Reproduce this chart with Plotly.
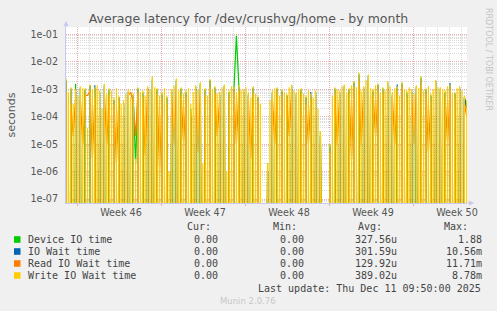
import plotly.graph_objects as go

# ---------------- data (seconds) ----------------
# write wait sampled every 0.1 day, the other series every 0.2 day
write_step_days = 0.1
other_step_days = 0.2

device_io = [
    2.2e-3, 0, 1.1e-3, 0, 1.6e-3, 0, 1.2e-3, 0, 1.0e-3, 0, 1.4e-3, 0,
    1.1e-3, 0, 8e-4, 0, 1.5e-3, 0, 1.0e-3, 0, 4e-4, 0, 5e-4, 0,
    3e-4, 0, 9e-4, 0, 6e-4, 2e-6, 1.1e-3, 0, 8e-4, 0, 1.2e-3, 0,
    2.9e-3, 0, 1.0e-3, 0, 7e-4, 0, 5e-4, 0, 9e-4, 0, 2.3e-3, 0,
    1.1e-3, 0, 8e-4, 0, 2e-4, 0, 1.3e-3, 0, 1.7e-3, 0, 1.0e-3, 0,
    2.2e-3, 0, 1.2e-3, 0, 7e-4, 0, 1.4e-3, 0, 8e-4, 0, 1.1e-3, 9e-2,
    1.5e-3, 0, 9e-4, 0, 7e-4, 0, 1.2e-3, 0, 5e-4, 0, 0, 0,
    2e-6, 0, 8e-4, 0, 1.1e-3, 0, 9e-4, 0, 6e-4, 0, 1.4e-3, 0,
    7e-4, 0, 1.0e-3, 0, 5e-4, 0, 6e-4, 0, 8e-4, 0, 3e-5, 0,
    0, 0, 1e-5, 0, 1.1e-3, 0, 8e-4, 0, 1.4e-3, 0, 1.0e-3, 0,
    1.9e-3, 0, 3.8e-3, 0, 1.2e-3, 0, 3.3e-3, 0, 9e-4, 0, 1.5e-3, 0,
    1.1e-3, 0, 1.9e-3, 0, 7e-4, 0, 1.2e-3, 0, 1.7e-3, 0, 8e-4, 0,
    9e-4, 0, 1.3e-3, 0, 2.8e-3, 0, 1.0e-3, 0, 6e-4, 0, 2.1e-3, 0,
    1.1e-3, 0, 8e-4, 0, 1.4e-3, 0, 7e-4, 0, 1.2e-3, 0, 5e-4, 2e-4,
]

io_wait = [
    2.0e-3, 0, 1.0e-3, 0, 8e-4, 0, 1.1e-3, 0, 9e-4, 0, 1.3e-3, 0,
    1.4e-3, 0, 7e-4, 0, 1.3e-3, 0, 9e-4, 0, 4e-4, 0, 5e-4, 0,
    3e-4, 0, 8e-4, 0, 6e-4, 0, 1.0e-3, 0, 7e-4, 0, 1.1e-3, 0,
    2.2e-3, 0, 9e-4, 0, 6e-4, 0, 5e-4, 0, 8e-4, 0, 2.0e-3, 0,
    1.0e-3, 0, 7e-4, 0, 1e-4, 0, 1.2e-3, 0, 1.5e-3, 0, 9e-4, 0,
    2.0e-3, 0, 1.1e-3, 0, 6e-4, 0, 1.3e-3, 0, 7e-4, 0, 1.0e-3, 0,
    1.2e-3, 0, 8e-4, 0, 6e-4, 0, 1.1e-3, 0, 5e-4, 0, 0, 0,
    1e-6, 0, 7e-4, 0, 1.0e-3, 0, 8e-4, 0, 6e-4, 0, 1.3e-3, 0,
    7e-4, 0, 9e-4, 0, 5e-4, 0, 8e-4, 0, 7e-4, 0, 2e-5, 0,
    0, 0, 8e-6, 0, 1.0e-3, 0, 7e-4, 0, 1.3e-3, 0, 9e-4, 0,
    1.7e-3, 0, 3.3e-3, 0, 1.1e-3, 0, 3.0e-3, 0, 8e-4, 0, 1.4e-3, 0,
    1.0e-3, 0, 1.7e-3, 0, 6e-4, 0, 1.5e-3, 0, 1.5e-3, 0, 7e-4, 0,
    8e-4, 0, 1.2e-3, 0, 2.5e-3, 0, 9e-4, 0, 6e-4, 0, 1.9e-3, 0,
    1.0e-3, 0, 7e-4, 0, 1.7e-3, 0, 7e-4, 0, 1.1e-3, 0, 5e-4, 2e-4,
]

read_wait = [
    8e-4, 0, 3e-4, 2e-5, 5e-4, 0, 4e-4, 1e-5, 6e-4, 6e-4, 9e-4, 3e-6,
    5e-4, 0, 2e-4, 0, 7e-4, 1e-5, 6e-4, 0, 3e-4, 2e-6, 4e-4, 0,
    1e-4, 0, 6e-4, 8e-4, 3e-4, 2e-5, 8e-4, 0, 5e-4, 4e-6, 1.0e-3, 0,
    9e-4, 0, 7e-4, 1e-6, 5e-4, 0, 3e-4, 0, 6e-4, 1e-5, 1.2e-3, 0,
    6e-4, 1e-5, 5e-4, 0, 1.5e-4, 0, 8e-4, 5e-6, 9e-4, 0, 6e-4, 0,
    1.2e-3, 0, 7e-4, 2e-5, 4e-4, 0, 1.0e-3, 0, 5e-4, 0, 8e-4, 1e-5,
    9e-4, 0, 6e-4, 0, 4e-4, 3e-6, 7e-4, 0, 4e-4, 0, 0, 0,
    1e-6, 0, 5e-4, 1e-5, 8e-4, 0, 6e-4, 0, 5e-4, 2e-5, 9e-4, 0,
    5e-4, 0, 7e-4, 0, 3e-4, 1e-5, 4e-4, 0, 6e-4, 0, 1e-5, 0,
    0, 0, 5e-6, 0, 7e-4, 1e-5, 6e-4, 0, 1.1e-3, 0, 7e-4, 3e-6,
    1.2e-3, 0, 2.0e-3, 1e-5, 8e-4, 0, 2.0e-3, 0, 6e-4, 2e-5, 1.0e-3, 0,
    7e-4, 0, 1.2e-3, 0, 5e-4, 1e-5, 9e-4, 0, 1.3e-3, 0, 5e-4, 0,
    6e-4, 1e-5, 9e-4, 0, 1.5e-3, 0, 7e-4, 5e-6, 4e-4, 0, 1.8e-3, 0,
    8e-4, 0, 5e-4, 1e-5, 1.0e-3, 0, 5e-4, 0, 9e-4, 0, 3e-4, 1e-4,
]

write_wait = [
    2.6e-3, 0, 8e-4, 0, 1.2e-3, 0, 3e-4, 0, 1.0e-3, 0, 6e-4, 0,
    1.3e-3, 0, 1.1e-3, 0, 1.1e-3, 0, 4e-5, 0, 1.5e-3, 0, 1.0e-3, 0,
    1.2e-3, 0, 1.4e-3, 0, 9e-4, 0, 2e-4, 0, 1.6e-3, 0, 7e-4, 0,
    1.1e-3, 0, 9e-4, 0, 5e-4, 0, 1.1e-3, 0, 6e-4, 0, 3e-4, 0,
    4e-4, 0, 7e-4, 0, 1.0e-3, 0, 5e-4, 0, 7e-4, 0, 3e-6, 0,
    1.2e-3, 0, 8e-4, 0, 9e-4, 0, 6e-4, 0, 1.3e-3, 0, 1.0e-3, 0,
    2.8e-3, 0, 1.2e-3, 0, 1.1e-3, 0, 6e-4, 0, 8e-4, 0, 1.1e-3, 0,
    6e-4, 0, 1e-6, 0, 1.0e-3, 0, 1.4e-3, 0, 2.5e-3, 0, 9e-4, 0,
    1.2e-3, 0, 7e-4, 0, 9e-4, 0, 1.1e-3, 0, 3e-4, 0, 8e-4, 0,
    1.4e-3, 0, 1.0e-3, 0, 1.8e-3, 0, 2e-6, 0, 1.1e-3, 0, 6e-4, 0,
    2.4e-3, 0, 1.0e-3, 0, 1.3e-3, 0, 7e-4, 0, 8e-4, 0, 1.2e-3, 0,
    1.5e-3, 0, 1e-6, 0, 9e-4, 0, 1.3e-3, 0, 1.2e-3, 0, 8e-4, 0,
    1.4e-3, 0, 9e-4, 0, 1.0e-3, 0, 1.2e-3, 0, 8e-4, 0, 5e-4, 0,
    1.3e-3, 0, 7e-4, 0, 6e-4, 0, 3e-4, 0, 0, 0, 0, 0,
    2e-6, 0, 4e-4, 0, 9e-4, 0, 1.1e-3, 0, 1.2e-3, 0, 6e-4, 0,
    1.0e-3, 0, 8e-4, 0, 7e-4, 0, 1.2e-3, 0, 1.5e-3, 0, 9e-4, 0,
    8e-4, 0, 1.0e-3, 0, 1.1e-3, 0, 7e-4, 0, 6e-4, 0, 9e-4, 0,
    7e-4, 0, 5e-4, 0, 9e-4, 0, 2e-4, 0, 3e-5, 0, 0, 0,
    0, 0, 0, 0, 1e-5, 0, 6e-4, 0, 1.2e-3, 0, 1.0e-3, 0,
    9e-4, 0, 1.3e-3, 0, 1.5e-3, 0, 8e-4, 0, 1.1e-3, 0, 1.4e-3, 0,
    2.0e-3, 0, 1.2e-3, 0, 4.0e-3, 0, 9e-4, 0, 1.3e-3, 0, 2.2e-3, 0,
    3.5e-3, 0, 1.1e-3, 0, 1.0e-3, 0, 1.4e-3, 0, 1.6e-3, 0, 8e-4, 0,
    1.2e-3, 0, 9e-4, 0, 2.0e-3, 0, 1.3e-3, 0, 8e-4, 0, 1.1e-3, 0,
    1.3e-3, 0, 6e-4, 0, 1.8e-3, 0, 1.0e-3, 0, 9e-4, 0, 1.2e-3, 0,
    1.0e-3, 0, 7e-4, 0, 1.4e-3, 0, 1.1e-3, 0, 3.0e-3, 0, 9e-4, 0,
    1.1e-3, 0, 1.3e-3, 0, 7e-4, 0, 1.0e-3, 0, 2.2e-3, 0, 1.2e-3, 0,
    1.2e-3, 0, 1.0e-3, 0, 9e-4, 0, 1.3e-3, 0, 1.5e-3, 0, 7e-4, 0,
    8e-4, 0, 1.1e-3, 0, 1.3e-3, 0, 9e-4, 0, 6e-4, 0, 4e-4, 2e-4,
]

series_names = ["Device IO time", "IO Wait time", "Read IO Wait time", "Write IO Wait time"]
series_colors = ["#00CC00", "#0066B3", "#FF8000", "#FFCC00"]
cur_values = ["0.00", "0.00", "0.00", "0.00"]
min_values = ["0.00", "0.00", "0.00", "0.00"]
avg_values = ["327.56u", "301.59u", "129.92u", "389.02u"]
max_values = ["1.88", "10.56m", "11.71m", "8.78m"]

week_labels = ["Week 46", "Week 47", "Week 48", "Week 49", "Week 50"]
week_label_days = [4.58, 11.58, 18.58, 25.58, 32.58]
week_grid_start = 0.917
y_tick_vals = [1e-7, 1e-6, 1e-5, 1e-4, 1e-3, 1e-2, 1e-1]
y_tick_text = ["1e-07", "1e-06", "1e-05", "1e-04", "1e-03", "1e-02", "1e-01"]

# ---------------- layout geometry ----------------
W, H = 497, 311
L, R, T, B = 66, 30, 27, 108
PW, PH = W - L - R, H - T - B
PX_PER_DAY = 12.0


def fx(px):
    return (px - L) / PW


def fy(py):
    return (T + PH - py) / PH


LOG_FLOOR = 1e-40  # zero values: line drops straight off the bottom of the log axis

fig = go.Figure()
all_series = [device_io, io_wait, read_wait, write_wait]
all_steps = [other_step_days, other_step_days, other_step_days, write_step_days]
for name, vals, col, stp in zip(series_names, all_series, series_colors, all_steps):
    xs = [i * stp for i in range(len(vals))]
    ys = [v if v > 0 else LOG_FLOOR for v in vals]
    fig.add_trace(go.Scatter(x=xs, y=ys, mode="lines", name=name,
                             line=dict(color=col, width=1.2),
                             showlegend=False, hoverinfo="skip"))

# helper trace so the label axis is drawn
fig.add_trace(go.Scatter(x=[week_label_days[0]], y=[1e-3], xaxis="x2", mode="markers",
                         marker=dict(opacity=0), showlegend=False, hoverinfo="skip"))

xrange = [0, PW / PX_PER_DAY]
grid_minor = "rgba(185,185,185,0.55)"
grid_major = "rgba(232,140,140,0.7)"
dash = "1px,1px"
axis_font = dict(family="DejaVu Sans", size=9.6, color="#555555")

fig.update_layout(
    width=W, height=H, autosize=False,
    margin=dict(l=L, r=R, t=T, b=B, pad=0),
    paper_bgcolor="#F0F0F0", plot_bgcolor="#FFFFFF",
    title=dict(text="Average latency for /dev/crushvg/home - by month",
               x=0.5, xanchor="center", y=1 - 19 / H, yanchor="middle",
               font=dict(family="DejaVu Sans", size=12.5, color="#555555")),
    xaxis=dict(range=xrange, tickmode="linear", tick0=week_grid_start, dtick=7,
               showticklabels=False, ticks="outside", ticklen=2, tickcolor=grid_major,
               showgrid=True, gridcolor=grid_major, griddash=dash, gridwidth=1,
               minor=dict(tick0=week_grid_start, dtick=1, showgrid=True,
                          gridcolor=grid_minor, griddash=dash, gridwidth=1, ticks=""),
               showline=True, linecolor="#C8C8F0", linewidth=1, zeroline=False),
    xaxis2=dict(range=xrange, overlaying="x", anchor="y", side="bottom",
                tickmode="array", tickvals=week_label_days, ticktext=week_labels,
                showgrid=False, ticks="", tickfont=axis_font, ticklabelstandoff=2,
                showline=False, zeroline=False),
    yaxis=dict(type="log", range=[-7.146, -0.726],
               tickmode="array", tickvals=y_tick_vals, ticktext=y_tick_text,
               tickfont=axis_font, ticks="", ticklabelstandoff=5,
               showgrid=True, gridcolor=grid_major, griddash=dash, gridwidth=1,
               minor=dict(tickmode="array",
                          tickvals=[k * 10.0 ** e for e in range(-8, 0) for k in range(2, 10)],
                          showgrid=True, gridcolor=grid_minor, griddash=dash, gridwidth=1,
                          ticks=""),
               showline=True, linecolor="#C8C8F0", linewidth=1, zeroline=False,
               title=dict(text="seconds", standoff=12,
                          font=dict(family="DejaVu Sans", size=11, color="#555555"))),
)

ann = []
mono = "DejaVu Sans Mono"
txt_col = "#444444"
# axis arrows
ann.append(dict(xref="paper", yref="paper", x=fx(66), y=fy(21), ax=0, ay=8,
                text="", showarrow=True, arrowhead=2, arrowsize=1, arrowwidth=1,
                arrowcolor="#C8C8F0"))
ann.append(dict(xref="paper", yref="paper", x=fx(474), y=fy(203), ax=-8, ay=0,
                text="", showarrow=True, arrowhead=2, arrowsize=1, arrowwidth=1,
                arrowcolor="#C8C8F0"))
# right side credit
ann.append(dict(xref="paper", yref="paper", x=fx(489), y=fy(60), text="RRDTOOL / TOBI OETIKER",
                textangle=90, showarrow=False, xanchor="center", yanchor="middle",
                font=dict(family="DejaVu Sans", size=8, color="#C4C4C4")))
# legend header
for lbl, xr in zip(["Cur:", "Min:", "Avg:", "Max:"], [213, 299, 384, 470]):
    ann.append(dict(xref="paper", yref="paper", x=fx(xr), y=fy(227), text=lbl,
                    showarrow=False, xanchor="right", yanchor="middle",
                    font=dict(family=mono, size=10, color=txt_col)))
row_y = [239.5, 251.5, 263.5, 275.5]
shapes = []
for i, name in enumerate(series_names):
    yy = row_y[i]
    shapes.append(dict(type="rect", xref="paper", yref="paper",
                       x0=fx(14), x1=fx(20.5), y0=fy(yy + 3.3), y1=fy(yy - 3.3),
                       fillcolor=series_colors[i], line=dict(width=0)))
    ann.append(dict(xref="paper", yref="paper", x=fx(25.5), y=fy(yy), text=name,
                    showarrow=False, xanchor="left", yanchor="middle",
                    font=dict(family=mono, size=10, color=txt_col)))
    for val, xr in zip([cur_values[i], min_values[i], avg_values[i], max_values[i]],
                       [219.5, 305.5, 398.5, 483.5]):
        ann.append(dict(xref="paper", yref="paper", x=fx(xr), y=fy(yy), text=val,
                        showarrow=False, xanchor="right", yanchor="middle",
                        font=dict(family=mono, size=10, color=txt_col)))
ann.append(dict(xref="paper", yref="paper", x=fx(482.5), y=fy(288),
                text="Last update: Thu Dec 11 09:50:00 2025",
                showarrow=False, xanchor="right", yanchor="middle",
                font=dict(family=mono, size=10, color=txt_col)))
ann.append(dict(xref="paper", yref="paper", x=fx(248), y=fy(301), text="Munin 2.0.76",
                showarrow=False, xanchor="center", yanchor="middle",
                font=dict(family="DejaVu Sans", size=8.5, color="#C8C8C8")))

fig.update_layout(annotations=ann, shapes=shapes)
fig.write_html("out.html")
